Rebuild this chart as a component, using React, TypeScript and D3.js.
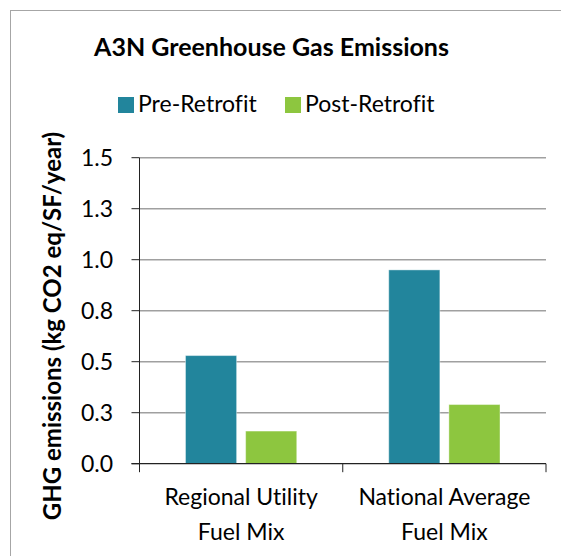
import React from 'react';
import * as d3 from 'd3';

const categories = ['Regional Utility|Fuel Mix', 'National Average|Fuel Mix'];
const seriesNames = ['Pre-Retrofit', 'Post-Retrofit'];
const preRetrofit = [0.53, 0.95];
const postRetrofit = [0.16, 0.29];
const tickValues = [0, 0.25, 0.5, 0.75, 1.0, 1.25, 1.5];
const tickLabels = ['0.0', '0.3', '0.5', '0.8', '1.0', '1.3', '1.5'];
const colors = ['#22859C', '#8DC63F'];

const W = 561;
const H = 556;
const FONT = 'Lato, "Open Sans", sans-serif';
const FS = 23;

/* Draws the grouped bar chart */
function App() {
    const left = 139.5;
    const right = 546;
    const top = 157.7;
    const bottom = 463.7;

    const x0 = d3.scaleBand().domain(categories).range([left, right]);
    const outer = 46;
    const x1 = d3
        .scaleBand()
        .domain(seriesNames)
        .range([outer, x0.bandwidth() - outer])
        .paddingInner(0.15);
    const y = d3.scaleLinear().domain([0, 1.5]).range([bottom, top]);

    const values = [preRetrofit, postRetrofit];

    return (
        <svg
            width={W}
            height={H}
            style={{ display: 'block', position: 'absolute', left: 0, top: 0, fontVariantLigatures: 'none' }}
        >
            <rect x={0} y={0} width={W} height={H} fill="#ffffff" />
            {/* chart border, cut off on the right and bottom */}
            <rect x={10.5} y={10.5} width={W + 20} height={H + 20} fill="none" stroke="#A6A6A6" strokeWidth={1} />

            {/* title */}
            <text x={271.5} y={56} textAnchor="middle" fontFamily={FONT} fontWeight="bold" fontSize={25} fill="#000">
                A3N Greenhouse Gas Emissions
            </text>

            {/* legend */}
            {seriesNames.map((s, i) => {
                const lx = [118, 285][i];
                return (
                    <g key={s}>
                        <rect x={lx} y={97} width={16} height={16} fill={colors[i]} />
                        <text x={lx + 20} y={112} fontFamily={FONT} fontSize={FS} fill="#000">{s}</text>
                    </g>
                );
            })}

            {/* gridlines */}
            {tickValues.slice(1).map((t) => (
                <line key={t} x1={left} x2={right} y1={y(t)} y2={y(t)} stroke="#A0A0A0" strokeWidth={1.4} />
            ))}

            {/* bars */}
            {categories.map((c, ci) => (
                <g key={c} transform={`translate(${x0(c)},0)`}>
                    {seriesNames.map((s, si) => {
                        const v = values[si][ci];
                        return (
                            <rect
                                key={s}
                                x={x1(s)}
                                y={y(v)}
                                width={x1.bandwidth()}
                                height={y(0) - y(v)}
                                fill={colors[si]}
                                stroke="#ffffff"
                                strokeOpacity={0.4}
                                strokeWidth={1}
                            />
                        );
                    })}
                </g>
            ))}

            {/* y axis */}
            <line x1={left} x2={left} y1={top} y2={bottom + 8} stroke="#222" strokeWidth={1} />
            {tickValues.map((t, i) => (
                <g key={t}>
                    <line x1={left - 8} x2={left} y1={y(t)} y2={y(t)} stroke="#222" strokeWidth={1} />
                    <text x={113} y={y(t) + 8} textAnchor="end" fontFamily={FONT} fontSize={FS} fill="#000">
                        {tickLabels[i]}
                    </text>
                </g>
            ))}

            {/* x axis */}
            <line x1={left - 8} x2={right} y1={bottom} y2={bottom} stroke="#222" strokeWidth={1.2} />
            {[left, left + x0.bandwidth(), right].map((tx) => (
                <line key={tx} x1={tx} x2={tx} y1={bottom} y2={bottom + 8.5} stroke="#222" strokeWidth={1} />
            ))}
            {categories.map((c) => {
                const cx = (x0(c) as number) + x0.bandwidth() / 2;
                return (
                    <text key={c} x={cx} textAnchor="middle" fontFamily={FONT} fontSize={FS} fill="#000">
                        {c.split('|').map((line, li) => (
                            <tspan key={li} x={cx} y={505 + li * 35}>{line}</tspan>
                        ))}
                    </text>
                );
            })}

            {/* y axis title */}
            <text
                transform={`translate(61,326) rotate(-90)`}
                textAnchor="middle"
                fontFamily={FONT}
                fontWeight="bold"
                fontSize={24}
                fill="#000"
            >
                GHG emissions  (kg CO2 eq/SF/year)
            </text>
        </svg>
    );
}

export default App;
